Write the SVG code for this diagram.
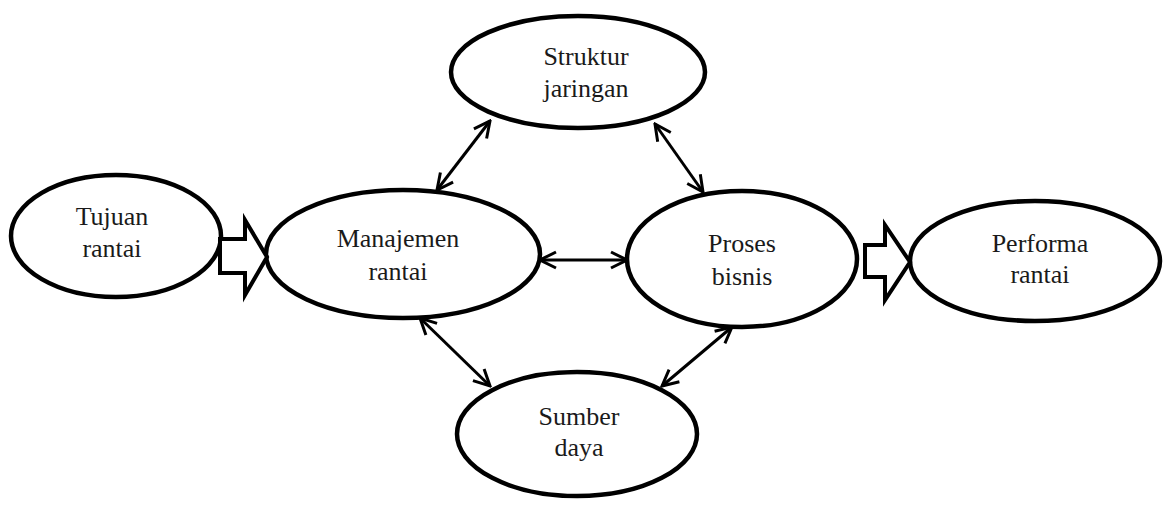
<svg xmlns="http://www.w3.org/2000/svg" width="1163" height="508" viewBox="0 0 1163 508">
<defs>
<marker id="ah" viewBox="0 0 20 20" refX="18" refY="10" markerWidth="20" markerHeight="20" markerUnits="userSpaceOnUse" orient="auto-start-reverse">
<path d="M2,2 L18,10 L2,18" fill="none" stroke="#000" stroke-width="3" stroke-linejoin="miter"/>
</marker>
<style>
.n ellipse{fill:#fff;stroke:#000;stroke-width:4.5}
.n text{font-family:"Liberation Serif","Times New Roman",serif;font-size:26px;fill:#1a1a1a;text-anchor:middle}
.c line{stroke:#000;stroke-width:3;marker-start:url(#ah);marker-end:url(#ah)}
.b path{fill:#fff;stroke:#000;stroke-width:4;stroke-linejoin:miter}
</style>
</defs>
<rect width="1163" height="508" fill="#fff"/>
<g id="connectors" class="c">
<line x1="437" y1="190" x2="490" y2="121"/>
<line x1="655" y1="124" x2="703" y2="192"/>
<line x1="540" y1="260" x2="627" y2="260"/>
<line x1="420" y1="318" x2="490" y2="386"/>
<line x1="732" y1="327" x2="662" y2="386"/>
</g>
<g id="n-tujuan" class="n"><ellipse cx="116" cy="236" rx="105" ry="61"/><text x="112" y="225">Tujuan</text><text x="112" y="257">rantai</text></g>
<g id="n-manajemen" class="n"><ellipse cx="403" cy="254" rx="137" ry="64"/><text x="398" y="247">Manajemen</text><text x="398" y="280">rantai</text></g>
<g id="n-struktur" class="n"><ellipse cx="578" cy="72" rx="127" ry="56"/><text x="586" y="65">Struktur</text><text x="586" y="97">jaringan</text></g>
<g id="n-proses" class="n"><ellipse cx="742" cy="259" rx="115" ry="68"/><text x="742" y="252">Proses</text><text x="742" y="285">bisnis</text></g>
<g id="n-performa" class="n"><ellipse cx="1035" cy="261" rx="125" ry="60"/><text x="1040" y="252">Performa</text><text x="1040" y="283">rantai</text></g>
<g id="n-sumber" class="n"><ellipse cx="577" cy="434" rx="120" ry="62"/><text x="579" y="425">Sumber</text><text x="579" y="456">daya</text></g>
<g id="block-arrows" class="b">
<path d="M220,239 L245,239 L245,220 L267,257 L245,295 L245,273 L220,273 Z"/>
<path d="M865,245 L885,245 L885,225 L910,262 L885,300 L885,277 L865,277 Z"/>
</g>
</svg>
